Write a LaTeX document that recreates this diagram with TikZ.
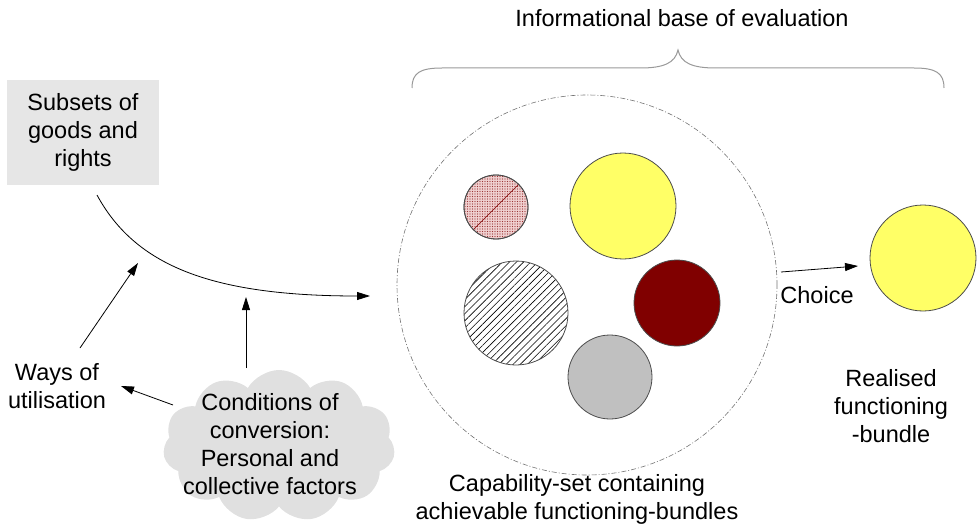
\documentclass[tikz,border=0pt]{standalone}
\usepackage{fontspec}
\setmainfont{Liberation Sans}
\usetikzlibrary{arrows.meta,shapes.symbols,patterns,patterns.meta}
\definecolor{boxgray}{HTML}{E6E6E6}
\definecolor{cloudgray}{HTML}{E0E0E0}
\definecolor{byellow}{HTML}{FFFF66}
\definecolor{dred}{HTML}{800000}
\definecolor{bgray}{HTML}{C0C0C0}
\definecolor{pinkfill}{HTML}{F0D0D0}
\definecolor{bracegray}{HTML}{999999}
\begin{document}
\begin{tikzpicture}[x=1pt,y=-1pt,
  txt/.style={font=\fontsize{23.5}{28}\selectfont,align=center,inner sep=0pt},
  arr/.style={-{Triangle[length=13pt,width=8pt]},line width=0.8pt},
  ball/.style={circle,draw=black!70,line width=0.8pt,inner sep=0pt}]
\useasboundingbox (0,0) rectangle (977,524);
% title and brace
\node[txt] (title) at (682,18) {Informational base of evaluation};
\draw[bracegray,line width=1pt] (412,88) .. controls (412,73) and (420,68) .. (442,68) -- (640,68)
  .. controls (664,68) and (675,63) .. (678,50) .. controls (681,63) and (692,68) .. (716,68) -- (914,68)
  .. controls (936,68) and (944,73) .. (944,88);
% left box
\node[txt,fill=boxgray,minimum width=152pt,minimum height=105pt] (goods) at (83,132.5) {Subsets of\\goods and\\rights};
% cloud
\node[cloud,cloud puffs=11,cloud puff arc=120,aspect=1.5,fill=cloudgray,draw=none,minimum width=232pt,minimum height=152pt,inner sep=0pt] (cloud) at (279,446) {};
\node[txt] (cond) at (270,444) {Conditions of\\conversion:\\Personal and\\collective factors};
\node[txt] (ways) at (57,386) {Ways of\\utilisation};
% connectors
\coordinate (cstart) at (97,195);
\coordinate (cend) at (370,296);
\draw[arr] (cstart) .. controls (135,265) and (210,296) .. (cend);
\coordinate (wtop) at (80,348);
\coordinate (wtip) at (138,263);
\draw[arr] (wtop) -- (wtip);
\coordinate (ctop) at (246,368);
\coordinate (ctip) at (246,297);
\draw[arr] (ctop) -- (ctip);
\coordinate (cleft) at (173,405);
\coordinate (wright) at (121,386);
\draw[arr] (cleft) -- (wright);
% capability set
\node[circle,draw=black!55,dash pattern=on 5pt off 2pt on 1pt off 2pt,line width=0.6pt,minimum size=380pt,inner sep=0pt] (capset) at (587,285) {};
\node[ball,fill=pinkfill,minimum size=64pt] (pink) at (496,207) {};
\fill[pattern={Dots[distance=2.5pt,radius=0.7pt]},pattern color=dred!80] (496,207) circle (31.5);
\draw[dred,line width=0.6pt] (pink.225) -- (pink.45);
\draw[black!70,line width=0.8pt] (pink) circle (32);
\node[ball,fill=byellow,minimum size=106pt] (yel) at (623,206) {};
\node[ball,pattern={Lines[angle=45,distance=5pt,line width=0.6pt]},minimum size=104pt] (hatch) at (516,313) {};
\node[ball,fill=dred,minimum size=86pt] (red) at (677,303) {};
\node[ball,fill=bgray,minimum size=84pt] (gry) at (610,377) {};
\node[txt] (caplab) at (577,499) {Capability-set containing\\achievable functioning-bundles};
% choice
\node[ball,fill=byellow,minimum size=106pt] (real) at (923,258) {};
\coordinate (chs) at (781,272);
\coordinate (che) at (858,266);
\draw[arr] (chs) -- (che);
\node[txt] (choice) at (817,295) {Choice};
\node[txt] (reallab) at (891,406) {Realised\\functioning\\-bundle};
\end{tikzpicture}
\end{document}
